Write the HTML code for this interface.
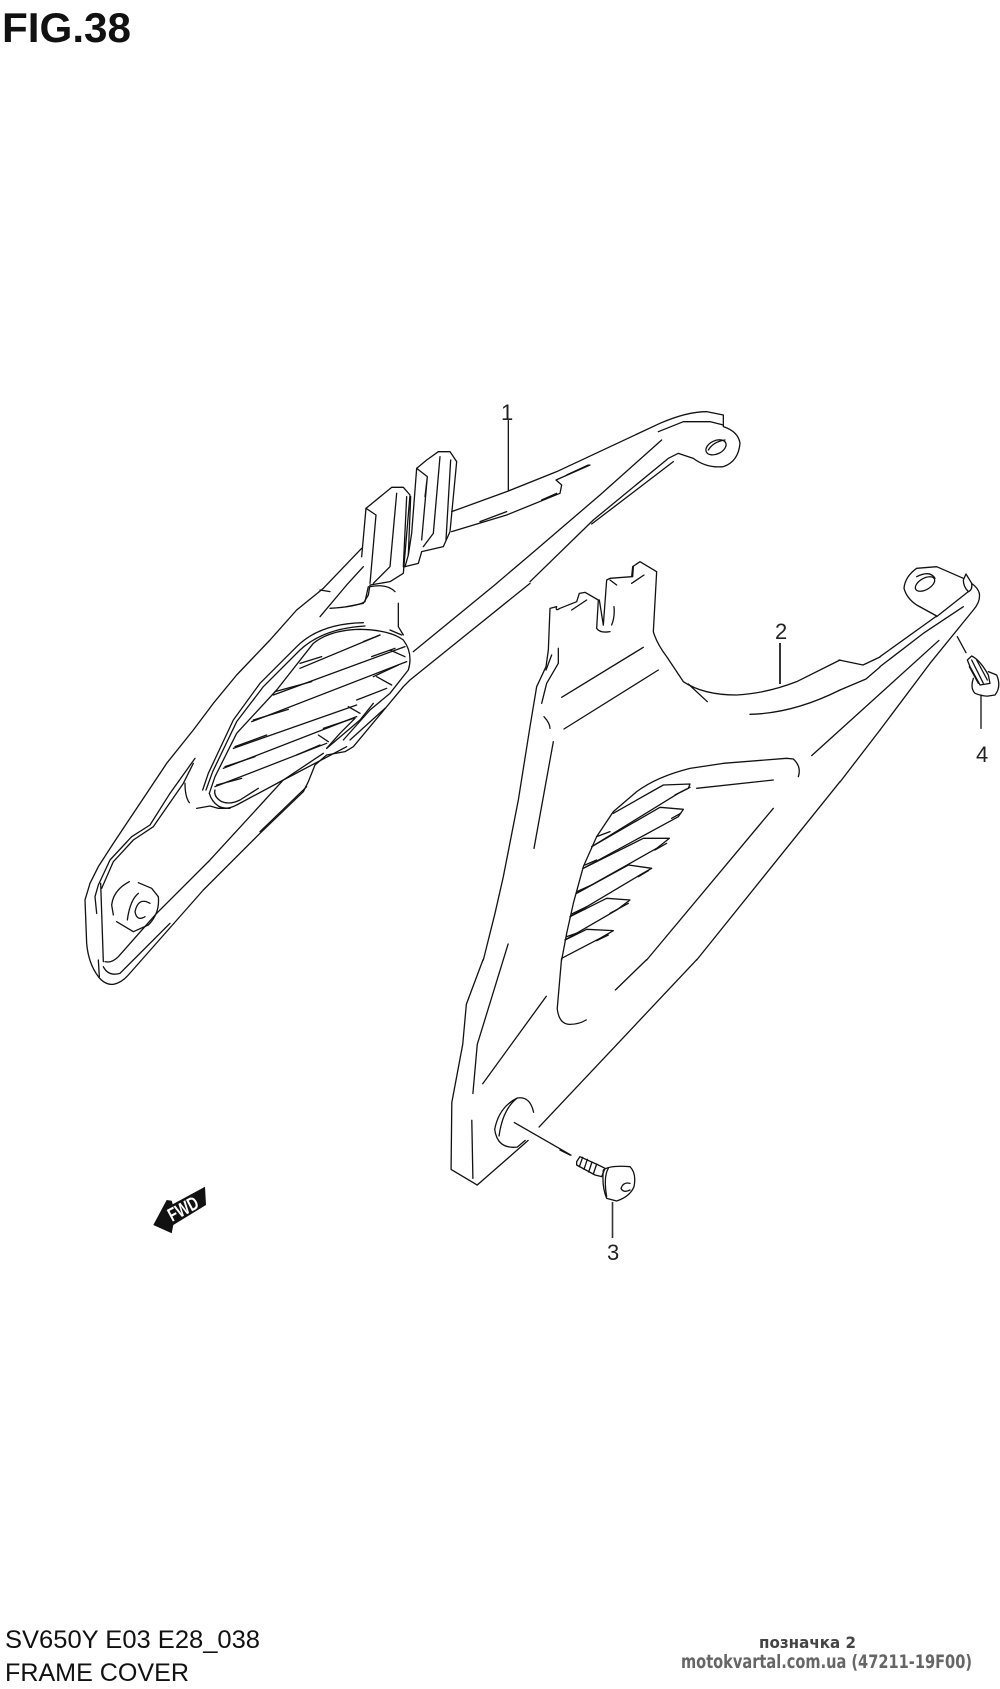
<!DOCTYPE html>
<html><head><meta charset="utf-8"><style>
html,body{margin:0;padding:0;background:#fff;width:1000px;height:1689px;overflow:hidden}
svg{display:block}
.l path,.l ellipse,.l circle{fill:none;stroke:#111;stroke-width:1.3;stroke-linejoin:round;stroke-linecap:round;vector-effect:non-scaling-stroke}
text{font-family:"Liberation Sans",sans-serif}
</style></head><body>
<svg width="1000" height="1689" viewBox="0 0 1000 1689" xmlns="http://www.w3.org/2000/svg">
<rect width="1000" height="1689" fill="#fff"/>
<text x="2" y="42" font-size="42" font-weight="bold" fill="#111" textLength="129" lengthAdjust="spacingAndGlyphs">FIG.38</text>

<!-- part 1 lower -->
<g class="l" transform="translate(70,500) scale(.33333)">
<path d="M875,145 L760,265 L680,330 L600,420 L500,525 L430,610 L370,690 L290,790 L190,940 L130,1030 L85,1100 L60,1150 L45,1200 L50,1330 Q55,1390 85,1430 Q105,1455 130,1453 Q155,1448 175,1425 L400,1170 L570,1000 L700,875 L715,845 L735,795 L770,765 L825,755 L850,740 L1000,560 L1020,540 L1380,250"/>
<path d="M1030,455 L1280,250"/>
<path d="M105,1385 Q125,1390 145,1370 L260,1240 L420,1080 L640,840 L760,760"/>
<path d="M100,1400 Q115,1430 150,1420 L300,1270 M570,995 L710,860"/>
<path d="M80,1240 L75,1190 L85,1155 L120,1080 L185,1010 L240,975 L300,880 L375,775"/>
<path d="M95,1165 L130,1085 L190,1020 L250,980 L340,850 L370,790"/>
<path d="M100,1385 L92,1150 M85,1380 L88,1430"/>
<path d="M345,850 Q345,890 358,908 M380,925 L420,918 L445,925 L480,925"/>
<path d="M398,870 L415,820 L490,660 L570,550 L680,440 Q750,370 880,368"/>
<path d="M408,870 L428,815 L500,665 L580,560 L690,450 Q760,385 885,378"/>
<path d="M418,880 L435,830 L500,700 L620,570 L730,430 Q780,390 870,388 Q960,390 1000,420 Q1030,460 1015,510 L960,580 L900,630 L820,720"/>
<path d="M418,880 Q425,905 445,918 Q470,932 500,915 L640,840 L830,740"/>
<path d="M435,870 Q430,890 455,905 Q480,915 510,900 L565,865"/>
<path d="M690,505 L930,405 M610,585 L1005,440 M545,665 L1010,485 M490,745 L860,615 M460,805 L860,650 M435,860 L770,730"/>
<path d="M880,425 L930,405 M905,470 L975,445 M910,530 L985,495 M860,600 L950,565 M760,685 L850,655 M680,765 L750,735"/>
<path d="M690,490 L755,470 M615,575 L725,545 M550,660 L655,628 M495,740 L590,705 M465,800 L555,770 M440,855 L515,835"/>
<path d="M960,450 L1005,470 M920,530 L965,555 M835,620 L870,640 M745,705 L775,725 M855,655 L810,700 L770,745"/>
<path d="M840,720 L945,625 M770,745 L870,660 L910,610"/>
<path d="M900,260 Q950,250 975,275 M985,310 L985,380 L1000,405 M960,390 L995,405"/>
<path d="M780,325 Q860,320 885,305 L895,260 M750,350 L830,255 L880,200 M780,275 L750,270"/>
<!-- boss -->
<path d="M178,1145 Q130,1170 125,1215 L130,1245 M205,1148 L245,1165 L265,1190 Q270,1240 235,1275 L190,1295 L140,1265"/>
<path d="M240,1210 Q205,1190 195,1235 Q200,1265 225,1250 M205,1180 Q180,1200 172,1260"/>
</g>

<!-- part 1 upper -->
<g class="l" transform="translate(340,400) scale(.33333)">
<path d="M335,335 L500,275 L650,215 L960,70 Q1040,35 1100,35 L1150,45 L1150,80 Q1195,95 1200,130 Q1195,185 1150,200 Q1100,205 1060,175 L1015,160 L985,175 L760,360 L570,545"/>
<path d="M965,120 L780,285 L570,465 L471,549"/>
<path d="M1000,185 L755,372"/>
<path d="M335,395 L500,345 L660,280 L665,255 L648,240 L750,195 M680,225 L745,195 M605,300 L650,280 M420,365 L500,335 M955,95 L1030,65 L1110,65 L1150,75"/>
<path d="M505,62 L505,270"/>
<ellipse cx="1128" cy="142" rx="32" ry="20" transform="rotate(-25 1128 142)"/>
<path d="M1105,150 Q1120,125 1155,120"/>
<!-- tab B -->
<path d="M230,205 L260,180 L295,155 L330,155 L350,185 L330,395 L310,440 L245,455 L235,490 L195,500"/>
<path d="M230,205 L215,400 L205,465 M262,230 L245,420 M300,170 L280,400 L250,440 M332,180 L318,420 M230,205 L262,230 L255,290"/>
<!-- tab A -->
<path d="M78,325 L155,262 L190,262 L210,285 L190,520 L150,545 L90,555 L85,585 L70,610 L20,620"/>
<path d="M78,325 L65,470 M108,345 L90,550 M170,280 L150,500 L100,550 M200,290 L190,500 M212,290 L205,465 L195,500 M78,325 L108,345"/>
</g>

<!-- part 2 upper -->
<g class="l" transform="translate(440,560) scale(.33333)">
<path d="M130,1200 L165,1060 L190,950 L235,720 L270,500 L290,380 L318,320 L325,270 L330,145 L350,140 Q345,155 360,145 L410,125 L418,100 L435,97 L475,120 L470,205 Q480,220 510,215"/>
<path d="M490,195 L500,60 L510,55 L575,50 L578,20 L600,5 L650,35 L640,215 Q650,250 680,290 L730,365 Q790,405 890,405 Q980,400 1070,365 L1200,300"/>
<path d="M395,150 L440,120 M575,70 L612,45 M515,195 Q525,170 522,140 M510,60 L530,75 M478,120 L490,195 M580,20 L578,50"/>
<path d="M355,265 L355,310 L320,370 L305,430 M335,285 L318,330"/>
<path d="M312,470 Q330,490 330,505 M340,545 L282,865 M610,262 L365,412 M655,330 L372,507 M745,372 L802,425 M930,463 Q1060,460 1200,390"/>
<path d="M1075,650 Q1085,620 1060,597 L1040,595 L850,610 L750,625 Q650,650 590,695 L520,755 L470,830 L430,920 L400,1030 L380,1120 L365,1200"/>
<path d="M1000,660 L770,685"/>
<path d="M520,760 L670,675 L750,672 L745,685 L715,700 L455,860"/>
<path d="M455,860 L660,742 L730,748 L715,770 L430,925"/>
<path d="M430,925 L610,835 L688,835 L650,865 L410,1000"/>
<path d="M410,1000 L565,915 L635,925 L600,945 L390,1070"/>
<path d="M390,1070 L500,1015 L570,1020 L530,1050 L375,1140"/>
<path d="M375,1140 L440,1108 L520,1112 L480,1135 L365,1195"/>
<path d="M705,705 L750,682 M695,775 L722,760 M645,870 L680,850 M595,950 L625,932 M510,1060 L565,1030 M470,1142 L505,1125 M470,830 L510,815 M435,915 L470,900 M410,995 L455,975 M395,1062 L440,1040 M380,1130 L415,1118"/>
<path d="M1000,745 L620,1200 M1200,665 L770,1200"/>
</g>
<path d="M780,643 L780,684" fill="none" stroke="#111" stroke-width="1.7"/>

<!-- arm links -->
<g class="l">
<path d="M839,660 L863,665 L880,657"/>
<path d="M840,690 L866,679 L880,667"/>
<path d="M840,782 L880,730"/>
</g>

<!-- part 2 lower -->
<g class="l" transform="translate(430,540) scale(.3635,.4464)">
<path d="M146,940 L100,1040 L90,1130 L60,1260 L58,1410 L130,1445 L270,1345"/>
<path d="M300,1315 L734,940"/>
<path d="M1400,225 L1050,483 M596,940 L510,1008 M215,905 L130,1130 L118,1240 M115,1300 L118,1430 M320,1022 L145,1218"/>
<path d="M362,937 L350,1050 Q355,1085 385,1085 Q410,1085 430,1075"/>
<path d="M285,1282 Q275,1245 240,1250 Q190,1270 178,1320 Q185,1365 240,1360 L262,1345 M240,1250 Q200,1275 190,1335"/>
<path d="M232,1305 L388,1378"/>
</g>

<!-- eye & clip -->
<g class="l" transform="translate(880,560) scale(.33333)">
<path d="M250,55 L170,20 L110,25 Q75,50 72,85 Q80,115 110,135 L170,168 L0,290"/>
<path d="M265,95 L170,170 M250,140 L130,220 L0,320"/>
<path d="M298,100 Q302,125 280,150 L150,310 L0,510"/>
<path d="M250,60 L258,42 L275,70 Q278,90 265,95 Q250,80 250,60 M275,70 Q295,85 298,100"/>
<ellipse cx="135" cy="72" rx="32" ry="17" transform="rotate(-30 135 72)"/>
<path d="M110,50 Q150,30 165,55 M232,230 L258,278"/>
<path d="M262,300 L275,288 Q300,300 325,345 L330,370 L300,375 L270,320 Z"/>
<path d="M275,300 L310,370 M290,300 L322,360 M268,320 L295,370"/>
<path d="M280,355 Q270,385 285,400 Q310,410 325,408 L345,405 Q365,380 350,345 L325,335"/>
<path d="M303,405 L303,505"/>
</g>

<!-- screw -->
<g class="l" transform="translate(560,1140) scale(.33333)">
<path d="M0,30 L30,45"/>
<path d="M50,65 L60,50 L115,75 L135,85 L125,110 L105,105 L50,75 Z"/>
<path d="M68,52 L58,80 M82,58 L72,88 M96,66 L86,96 M110,72 L100,102"/>
<path d="M130,90 Q150,75 210,80 Q230,100 222,140 Q210,170 170,183 L140,175 Q125,140 130,90"/>
<path d="M145,85 Q130,110 140,170"/>
<path d="M210,130 Q190,125 183,145 Q190,160 210,150"/>
</g>
<path d="M612.5,1202 L612.5,1238" stroke="#333" stroke-width="1.6" fill="none"/>

<g fill="#222" font-size="22">
<text x="501" y="420">1</text>
<text x="775" y="639">2</text>
<text x="976" y="762">4</text>
<text x="607" y="1260">3</text>
</g>

<!-- FWD -->
<path d="M153.3,1225 L166.7,1200 L171.7,1200.7 L172.7,1204.3 L205,1186.7 L206,1205 L173.3,1225 L171.7,1233.3 Z" fill="#111"/>
<text x="172" y="1222" font-size="19" font-weight="bold" fill="#fff" transform="rotate(-28 172 1222)" textLength="32" lengthAdjust="spacingAndGlyphs">FWD</text>

<text x="5" y="1648" font-size="25" fill="#111" textLength="255" lengthAdjust="spacingAndGlyphs">SV650Y E03 E28_038</text>
<text x="5" y="1681" font-size="25" fill="#111" textLength="184" lengthAdjust="spacingAndGlyphs">FRAME COVER</text>
<text x="759" y="1648" font-size="16" font-weight="bold" fill="#444" textLength="97" lengthAdjust="spacingAndGlyphs" style="font-family:'DejaVu Sans',sans-serif">позначка 2</text>
<text x="681" y="1668" font-size="19" font-weight="bold" fill="#666" textLength="291" lengthAdjust="spacingAndGlyphs" style="font-family:'DejaVu Sans',sans-serif">motokvartal.com.ua (47211-19F00)</text>
</svg>
</body></html>
